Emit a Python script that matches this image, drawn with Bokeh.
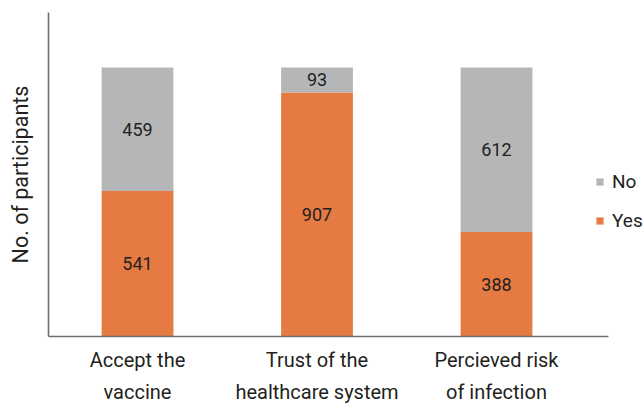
from bokeh.plotting import figure
from bokeh.models import (ColumnDataSource, Range1d, FixedTicker, Legend, LegendItem, LabelSet)
from bokeh.core.properties import value
from bokeh.embed import file_html
from bokeh.resources import INLINE

categories = ["Accept the\nvaccine", "Trust of the\nhealthcare system", "Percieved risk\nof infection"]
yes_values = [541, 907, 388]
no_values = [459, 93, 612]
series_names = ["Yes", "No"]
colors = {"Yes": "#E67A43", "No": "#B5B6B8"}
y_label = "No. of participants"

FONT = "Roboto"
TEXT_COLOR = "#231F20"

xs = list(range(len(categories)))
yes_mid = [y / 2 for y in yes_values]
no_mid = [y + n / 2 for y, n in zip(yes_values, no_values)]
source = ColumnDataSource(dict(
    x=xs, Yes=yes_values, No=no_values,
    yes_mid=yes_mid, no_mid=no_mid,
    yes_txt=[str(v) for v in yes_values], no_txt=[str(v) for v in no_values],
))

p = figure(width=643, height=406, output_backend="svg", toolbar_location=None,
           x_range=Range1d(-0.496, 2.819), y_range=Range1d(0, 1204),
           min_border_left=48, min_border_right=0, min_border_top=12, min_border_bottom=69)
p.outline_line_color = None
p.xgrid.visible = False
p.ygrid.visible = False
p.background_fill_color = "white"

renderers = p.vbar_stack(series_names, x="x", width=0.4, source=source,
                         color=[colors[s] for s in series_names], line_color=None)
r_yes, r_no = renderers

for ax in (p.xaxis[0], p.yaxis[0]):
    ax.axis_line_color = "#6D6E70"
    ax.axis_line_width = 1.6
    ax.major_tick_line_color = None
    ax.minor_tick_line_color = None
    ax.major_tick_out = 0
    ax.major_tick_in = 0

p.yaxis.ticker = FixedTicker(ticks=[])
p.yaxis.axis_label = y_label
p.yaxis.axis_label_text_font = FONT
p.yaxis.axis_label_text_font_style = "normal"
p.yaxis.axis_label_text_font_size = "21.5px"
p.yaxis.axis_label_text_color = TEXT_COLOR
p.yaxis.axis_label_standoff = 16

p.xaxis.ticker = FixedTicker(ticks=xs)
p.xaxis.bounds = (-0.496, 2.624)
p.xaxis.major_label_overrides = {i: c for i, c in zip(xs, categories)}
p.xaxis.major_label_text_font = FONT
p.xaxis.major_label_text_font_size = "20px"
p.xaxis.major_label_text_color = TEXT_COLOR
p.xaxis.major_label_text_line_height = 1.35
p.xaxis.major_label_standoff = 11

common = dict(text_font=value(FONT), text_color=TEXT_COLOR, text_align="center",
              text_baseline="middle", text_font_size="18px")
p.add_layout(LabelSet(x="x", y="yes_mid", text="yes_txt", source=source, **common))
p.add_layout(LabelSet(x="x", y="no_mid", text="no_txt", source=source, **common))

legend = Legend(items=[LegendItem(label="No", renderers=[r_no]),
                       LegendItem(label="Yes", renderers=[r_yes])],
                location=(547, 104), orientation="vertical",
                glyph_width=9, glyph_height=9, label_height=20, spacing=16,
                label_standoff=8, padding=0, margin=0,
                border_line_color=None, background_fill_alpha=0,
                label_text_font=FONT, label_text_font_size="19px",
                label_text_color=TEXT_COLOR)
p.add_layout(legend, "center")

open("out.html", "w").write(file_html(p, INLINE))
